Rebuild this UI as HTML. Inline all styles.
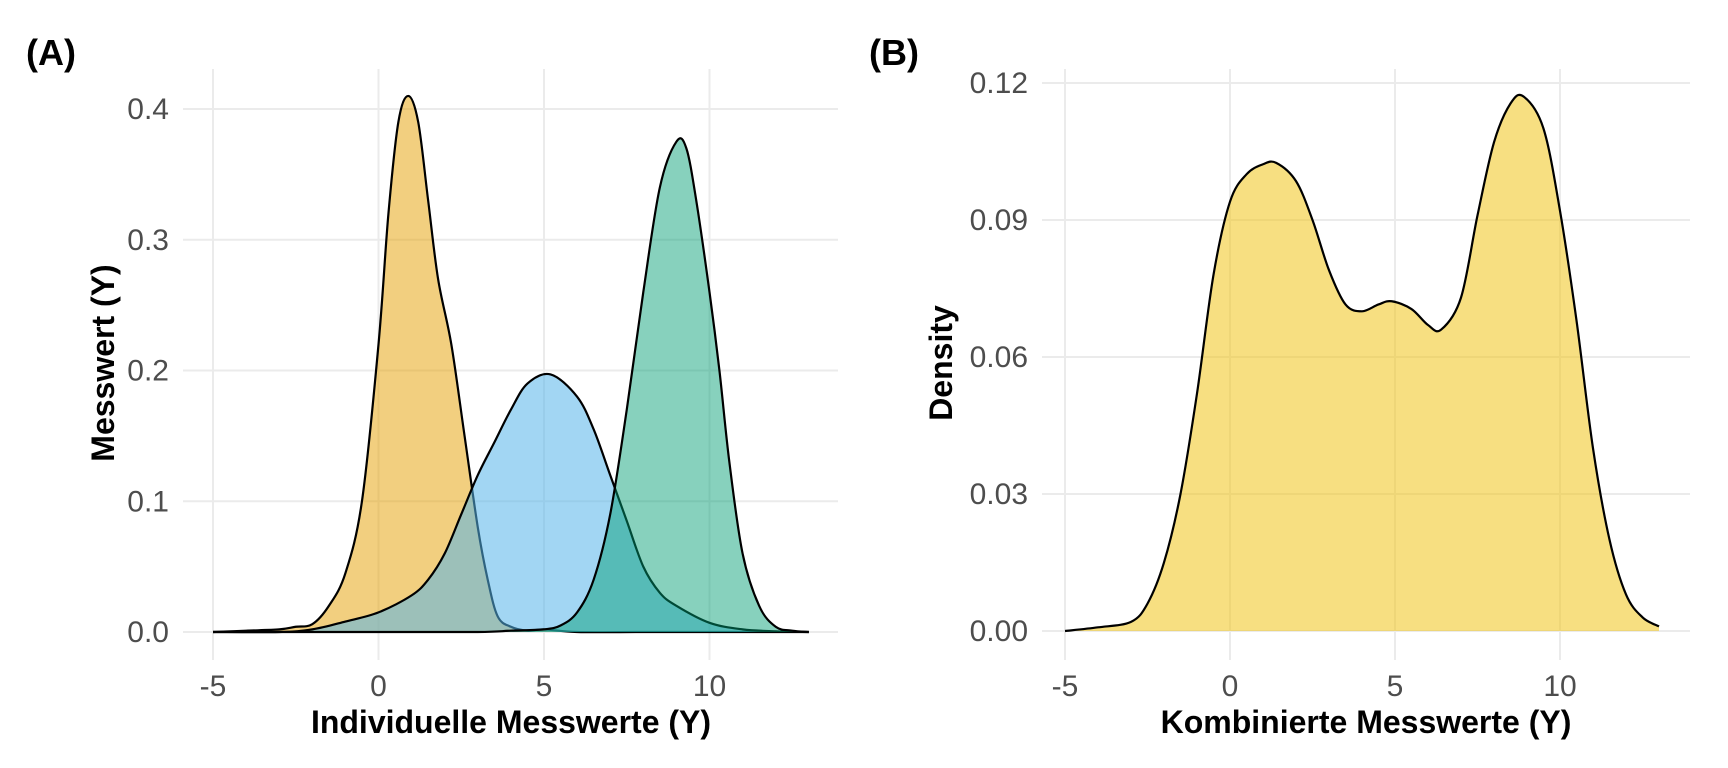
<!DOCTYPE html>
<html><head><meta charset="utf-8"><style>
body{margin:0;background:#fff}
svg{display:block;font-family:"Liberation Sans",sans-serif}
.tk{fill:#4d4d4d;font-size:30px}
.ttl{fill:#000;font-size:32px;font-weight:bold}
.grid{stroke:#ebebeb;stroke-width:2}
</style></head><body>
<svg id="svg" width="1728" height="768">
<text x="26" y="65" font-size="36" font-weight="bold">(A)</text>
<text x="869" y="65" font-size="36" font-weight="bold">(B)</text>
<g id="pa"></g>
<g id="pb"></g>
</svg>
<script>
const xTicks=[-5,0,5,10];
const aYTicks=[0,0.1,0.2,0.3,0.4];
const aYLabels=["0.0","0.1","0.2","0.3","0.4"];
const bYTicks=[0,0.03,0.06,0.09,0.12];
const bYLabels=["0.00","0.03","0.06","0.09","0.12"];
const orangeX=[-5,-4,-3,-2.5,-2,-1.5,-1,-0.5,0,0.3,0.6,0.9,1.2,1.5,1.8,2.2,2.6,3,3.3,3.6,4,4.5,5,6,8,10,13];
const orangeY=[0,0.001,0.002,0.004,0.006,0.02,0.045,0.1,0.22,0.32,0.39,0.41,0.39,0.33,0.27,0.22,0.15,0.08,0.04,0.012,0.004,0.001,0.002,0,0,0,0];
const blueX=[-5,-3,-2,-1,0,1,1.5,2,2.5,3,3.5,4,4.5,5.2,6,6.5,7,7.5,8,8.5,9,10,11,12,13];
const blueY=[0,0,0.002,0.008,0.015,0.028,0.04,0.06,0.09,0.12,0.145,0.17,0.19,0.197,0.18,0.155,0.12,0.085,0.05,0.03,0.02,0.007,0.002,0.0005,0];
const greenX=[-5,0,3,4,5,5.5,6,6.5,7,7.5,8,8.5,9,9.3,9.6,10,10.3,10.6,11,11.5,12,12.5,13];
const greenY=[0,0,0,0.001,0.002,0.005,0.015,0.04,0.09,0.17,0.26,0.34,0.375,0.37,0.33,0.26,0.2,0.13,0.06,0.02,0.004,0.001,0];
const combX=[-5,-4,-3,-2.5,-2,-1.5,-1,-0.5,0,0.5,1,1.4,2,2.5,3,3.5,4,4.5,4.9,5.5,6,6.4,7,7.5,8,8.5,8.9,9.5,10,10.5,11,11.5,12,12.5,13];
const combY=[0,0.0008,0.002,0.006,0.015,0.03,0.052,0.078,0.094,0.1,0.1022,0.1025,0.0985,0.09,0.079,0.0715,0.07,0.0715,0.0722,0.0705,0.067,0.066,0.073,0.091,0.107,0.1155,0.117,0.11,0.092,0.068,0.04,0.02,0.008,0.003,0.001];
const NS="http://www.w3.org/2000/svg";
function mk(p,t,a){const e=document.createElementNS(NS,t);for(const k in a)e.setAttribute(k,a[k]);p.appendChild(e);return e;}
function smooth(pts){let d="M"+pts[0][0]+","+pts[0][1];for(let i=0;i<pts.length-1;i++){const p0=pts[Math.max(0,i-1)],p1=pts[i],p2=pts[i+1],p3=pts[Math.min(pts.length-1,i+2)];const c1=[p1[0]+(p2[0]-p0[0])/6,p1[1]+(p2[1]-p0[1])/6],c2=[p2[0]-(p3[0]-p1[0])/6,p2[1]-(p3[1]-p1[1])/6];d+=" C"+c1[0]+","+c1[1]+" "+c2[0]+","+c2[1]+" "+p2[0]+","+p2[1];}return d;}
function panel(g,o){
  const sx=v=>o.x0+(v+5)*o.ppx, sy=v=>o.y0-v*o.ppy;
  o.yt.forEach((v,i)=>{const l=mk(g,"line",{x1:o.l,x2:o.r,y1:sy(v),y2:sy(v),class:"grid"});
    
    
    const t=mk(g,"text",{x:o.l-14,y:sy(v)+10,"text-anchor":"end",class:"tk"});t.textContent=o.yl[i];
    
    });
  xTicks.forEach(v=>{const l=mk(g,"line",{x1:sx(v),x2:sx(v),y1:69,y2:660,class:"grid"});
    
    
    const t=mk(g,"text",{x:sx(v),y:696,"text-anchor":"middle",class:"tk"});t.textContent=v;
    
    });
  o.series.forEach(s=>{const pts=s.x.map((v,i)=>[sx(v),sy(s.y[i])]);const d=smooth(pts);
    const f=mk(g,"path",{d:d+" L"+pts[pts.length-1][0]+","+sy(0)+" L"+pts[0][0]+","+sy(0)+"Z",fill:s.c,"fill-opacity":s.a,stroke:"none"});
    
    
    const p=mk(g,"path",{d:d,fill:"none",stroke:"#000","stroke-width":2.2});
    
    });
  const xt=mk(g,"text",{x:o.xc,y:733,"text-anchor":"middle",class:"ttl"});xt.textContent=o.xt;
  
  
  const yt=mk(g,"text",{x:0,y:0,"text-anchor":"middle",class:"ttl",transform:"translate("+o.ytx+",363) rotate(-90)"});yt.textContent=o.ytt;
  
  
}
panel(document.getElementById("pa"),{x0:213,ppx:33.1,y0:632,ppy:1307.5,l:183,r:838,yt:aYTicks,yl:aYLabels,xc:511,xt:"Individuelle Messwerte (Y)",ytx:114,ytt:"Messwert (Y)",
 series:[{x:orangeX,y:orangeY,c:"#E69F00",a:0.5,n:"orange-density"},{x:blueX,y:blueY,c:"#56B4E9",a:0.55,n:"blue-density"},{x:greenX,y:greenY,c:"#009E73",a:0.47,n:"green-density"}]});
panel(document.getElementById("pb"),{x0:1065,ppx:33.0,y0:631,ppy:4567,l:1042,r:1690,yt:bYTicks,yl:bYLabels,xc:1366,xt:"Kombinierte Messwerte (Y)",ytx:952,ytt:"Density",
 series:[{x:combX,y:combY,c:"#F0C419",a:0.55,n:"combined-density"}]});
</script>
</body></html>
